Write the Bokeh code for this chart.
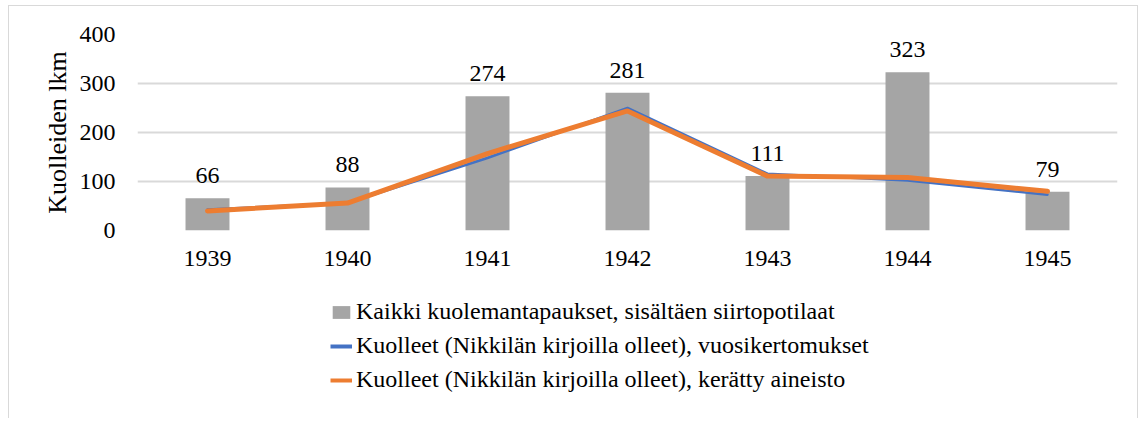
from bokeh.plotting import figure
from bokeh.layouts import column
from bokeh.models import (ColumnDataSource, Range1d, FactorRange, Legend, LegendItem,
                          LabelSet, SingleIntervalTicker)
from bokeh.embed import file_html
from bokeh.resources import INLINE

years = ["1939", "1940", "1941", "1942", "1943", "1944", "1945"]
all_deaths = [66, 88, 274, 281, 111, 323, 79]
annual_reports = [43, 56, 148, 250, 116, 102, 73]
collected = [40, 56, 157, 244, 111, 108, 80]

bar_name = "Kaikki kuolemantapaukset, sisältäen siirtopotilaat"
blue_name = "Kuolleet (Nikkilän kirjoilla olleet), vuosikertomukset"
orange_name = "Kuolleet (Nikkilän kirjoilla olleet), kerätty aineisto"
y_label = "Kuolleiden lkm"

FONT = "Liberation Serif"
BAR_C, BLUE_C, ORANGE_C = "#a5a5a5", "#4472c4", "#ed7d31"

src = ColumnDataSource(dict(x=years, bars=all_deaths, blue=annual_reports,
                            orange=collected, lab=[str(v) for v in all_deaths]))

p = figure(x_range=FactorRange(*years), y_range=Range1d(0, 400),
           width=1128, height=274,
           min_border_left=128, min_border_right=20, min_border_top=28, min_border_bottom=50,
           output_backend="svg", toolbar_location=None)
p.outline_line_color = None
p.background_fill_color = "white"
p.border_fill_color = "white"

p.vbar(x="x", top="bars", width=0.314, source=src, fill_color=BAR_C, line_color=None)
p.line(x="x", y="blue", source=src, line_color=BLUE_C, line_width=2.5,
       line_join="round", line_cap="round")
p.line(x="x", y="orange", source=src, line_color=ORANGE_C, line_width=5,
       line_join="round", line_cap="round")

labels = LabelSet(x="x", y="bars", text="lab", source=src, y_offset=15,
                  text_align="center", text_baseline="bottom",
                  text_font=FONT, text_font_size="24px", text_color="#000000")
p.add_layout(labels)

p.yaxis.ticker = SingleIntervalTicker(interval=100)
p.yaxis.axis_line_color = None
p.yaxis.major_tick_line_color = None
p.yaxis.minor_tick_line_color = None
p.yaxis.major_label_text_font = FONT
p.yaxis.major_label_text_font_size = "24px"
p.yaxis.major_label_text_color = "#000000"
p.yaxis.major_label_standoff = 16
p.yaxis.axis_label = y_label
p.yaxis.axis_label_text_font = FONT
p.yaxis.axis_label_text_font_size = "26px"
p.yaxis.axis_label_text_font_style = "normal"
p.yaxis.axis_label_text_color = "#000000"
p.yaxis.axis_label_standoff = 5

p.xaxis.axis_line_color = None
p.xaxis.major_tick_line_color = None
p.xaxis.minor_tick_line_color = None
p.xaxis.major_label_text_font = FONT
p.xaxis.major_label_text_font_size = "24px"
p.xaxis.major_label_text_color = "#000000"
p.xaxis.major_label_standoff = 14

p.xgrid.grid_line_color = None
p.ygrid.grid_line_color = "#d9d9d9"
p.ygrid.grid_line_width = 2

# legend panel: a second figure whose glyphs are out of view; it only shows the legend
p2 = figure(width=1128, height=138, x_range=FactorRange(*years), y_range=Range1d(5000, 6000),
            min_border=0, output_backend="svg", toolbar_location=None,
            x_axis_location=None, y_axis_location=None)
p2.outline_line_color = None
p2.xgrid.grid_line_color = None
p2.ygrid.grid_line_color = None
r_bar = p2.vbar(x="x", top="bars", width=0, source=src, fill_color=BAR_C, line_color=None)
r_blue = p2.line(x="x", y="blue", source=src, line_color=BLUE_C, line_width=4)
r_orange = p2.line(x="x", y="orange", source=src, line_color=ORANGE_C, line_width=4)

legend = Legend(items=[LegendItem(label=bar_name, renderers=[r_bar]),
                       LegendItem(label=blue_name, renderers=[r_blue]),
                       LegendItem(label=orange_name, renderers=[r_orange])],
                orientation="vertical", location=(193, 25),
                label_text_font=FONT, label_text_font_size="24px",
                label_text_color="#000000", glyph_width=22, glyph_height=16,
                label_height=24, label_standoff=4, spacing=7, padding=0, margin=0,
                border_line_color=None, background_fill_alpha=0)
p2.add_layout(legend, "center")

layout = column(p, p2, spacing=0,
                styles={"border-left": "1px solid #d9d9d9", "border-top": "1px solid #d9d9d9",
                        "border-right": "1px solid #d9d9d9", "margin-left": "8px",
                        "margin-top": "5px"})

open("out.html", "w").write(file_html(layout, INLINE))
